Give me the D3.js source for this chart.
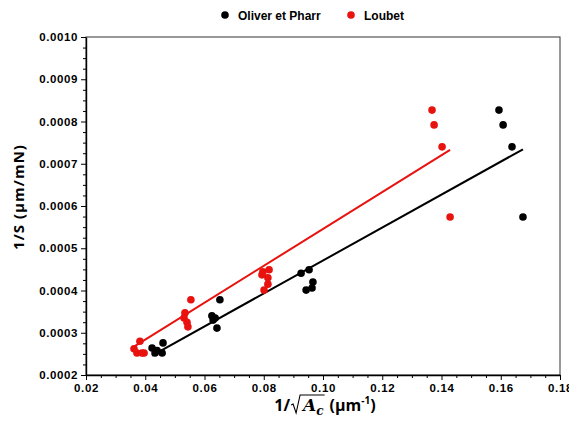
<!DOCTYPE html>
<html><head><meta charset="utf-8">
<script src="https://cdn.jsdelivr.net/npm/d3@7"></script>
<style>body{margin:0;background:#fff}</style>
</head><body><svg id="c" width="569" height="424" xmlns="http://www.w3.org/2000/svg"></svg>
<script>
// ---- data ----
const seriesNames = ["Oliver et Pharr", "Loubet"];
const seriesColors = ["#000000", "#e8120e"];
const oliverX = [0.0423, 0.0433, 0.0457, 0.0460, 0.0440, 0.0652, 0.0625, 0.0629, 0.0636, 0.0642, 0.0926, 0.0953, 0.0966, 0.0963, 0.0943, 0.1594, 0.1608, 0.1638, 0.1675];
const oliverY = [0.000264, 0.000252, 0.000252, 0.000276, 0.000258, 0.000378, 0.000340, 0.000330, 0.000335, 0.000311, 0.000441, 0.000449, 0.000420, 0.000406, 0.000401, 0.000827, 0.000792, 0.000740, 0.000574];
const loubetX = [0.0362, 0.0372, 0.0382, 0.0389, 0.0396, 0.0554, 0.0534, 0.0531, 0.0541, 0.0544, 0.0797, 0.0818, 0.0814, 0.0814, 0.0801, 0.0794, 0.1368, 0.1375, 0.1402, 0.1429];
const loubetY = [0.000262, 0.000252, 0.000280, 0.000252, 0.000252, 0.000378, 0.000347, 0.000335, 0.000325, 0.000314, 0.000444, 0.000449, 0.000430, 0.000415, 0.000401, 0.000437, 0.000827, 0.000792, 0.000740, 0.000574];
const fitSlope = [0.00390, 0.004367];
const fitIntercept = [0.000081, 0.000109];
const xTickValues = [0.02, 0.04, 0.06, 0.08, 0.10, 0.12, 0.14, 0.16, 0.18];
const yTickValues = [0.0002, 0.0003, 0.0004, 0.0005, 0.0006, 0.0007, 0.0008, 0.0009, 0.0010];

// ---- chart ----
const svg = d3.select("#c");
const L = 86, R = 560, T = 37, B = 375;
const x = d3.scaleLinear().domain([0.02, 0.18]).range([L, R]);
const y = d3.scaleLinear().domain([0.0002, 0.0010]).range([B, T]);
svg.append("rect").attr("width", 569).attr("height", 424).attr("fill", "#fff");

// frame
svg.append("rect").attr("x", L).attr("y", T).attr("width", R - L).attr("height", B - T)
  .attr("fill", "none").attr("stroke", "#333").attr("stroke-width", 1);

const tickFont = "bold 11.5px 'Liberation Sans', Arial, sans-serif";
// minor ticks
const xMinor = d3.range(0.02, 0.1801, 0.005).filter(v => Math.abs(Math.round(v / 0.02) * 0.02 - v) > 1e-6);
const yMinor = d3.range(0.0002, 0.001001, 0.000025).filter(v => Math.abs(Math.round(v / 0.0001) * 0.0001 - v) > 1e-9);
svg.append("g").attr("transform", `translate(0,${B})`)
  .call(d3.axisBottom(x).tickValues(xMinor).tickSize(3).tickFormat(""))
  .call(g => g.select(".domain").remove());
svg.append("g").attr("transform", `translate(${L},0)`)
  .call(d3.axisLeft(y).tickValues(yMinor).tickSize(3).tickFormat(""))
  .call(g => g.select(".domain").remove());

const gx = svg.append("g").attr("transform", `translate(0,${B})`)
  .call(d3.axisBottom(x).tickValues(xTickValues).tickSize(5).tickSizeOuter(0).tickPadding(4).tickFormat(d3.format(".2f")));
gx.selectAll("text").style("font", tickFont).style("letter-spacing", "0.6px").attr("fill", "#000");
const gy = svg.append("g").attr("transform", `translate(${L},0)`)
  .call(d3.axisLeft(y).tickValues(yTickValues).tickSize(5).tickSizeOuter(0).tickPadding(3).tickFormat(d3.format(".4f")));
gy.selectAll("text").style("font", tickFont).style("letter-spacing", "0.6px").attr("fill", "#000");
svg.selectAll(".domain").attr("stroke", "#000").attr("stroke-width", 1.4);
svg.selectAll(".tick line").attr("stroke", "#000");

// data
const series = [
  { xs: oliverX, ys: oliverY },
  { xs: loubetX, ys: loubetY }
];
series.forEach((s, i) => {
  const pts = s.xs.map((v, j) => [v, s.ys[j]]);
  const xmin = d3.min(s.xs), xmax = d3.max(s.xs);
  svg.append("line")
    .attr("x1", x(xmin)).attr("y1", y(fitIntercept[i] + fitSlope[i] * xmin))
    .attr("x2", x(xmax)).attr("y2", y(fitIntercept[i] + fitSlope[i] * xmax))
    .attr("stroke", seriesColors[i]).attr("stroke-width", 2);
  svg.append("g").selectAll("circle").data(pts).join("circle")
    .attr("cx", d => x(d[0])).attr("cy", d => y(d[1])).attr("r", 3.8)
    .attr("fill", seriesColors[i]);
});

// legend
const legX = [225, 351];
seriesNames.forEach((n, i) => {
  svg.append("circle").attr("cx", legX[i]).attr("cy", 15).attr("r", 3.8).attr("fill", seriesColors[i]);
  svg.append("text").attr("x", legX[i] + 13).attr("y", 19.5).text(n)
    .style("font", "bold 12px 'Liberation Sans', Arial, sans-serif").attr("fill", "#000");
});

// y label
svg.append("text").attr("transform", "translate(24,197) rotate(-90)")
  .attr("text-anchor", "middle").text("1/S  (µm/mN)")
  .style("font", "bold 15px 'Open Sans', sans-serif").style("letter-spacing", "1px").attr("fill", "#000");

// x label built from pieces
const xl = svg.append("g");
const baseY = 411;
let cx = 0;
function piece(txt, font, dy) {
  const t = xl.append("text").attr("x", cx).attr("y", baseY + (dy || 0)).text(txt)
    .style("font", font).attr("fill", "#000");
  const w = t.node().getComputedTextLength();
  cx += w;
  return { t, w };
}
const sans = "bold 16px 'Open Sans', sans-serif";
piece("1/", sans);
const radStart = cx;
cx += 13;
piece("A", "italic bold 17px 'DejaVu Serif', serif");
piece("c", "italic bold 12px 'DejaVu Serif', serif", 4);
const radEnd = cx + 1;
cx += 6;
piece("(µm", sans);
piece("-1", "bold 10px 'Open Sans', sans-serif", -7);
piece(")", sans);
xl.append("path")
  .attr("d", `M${radStart + 1},${baseY - 6} L${radStart + 3},${baseY - 7} L${radStart + 6},${baseY + 2} L${radStart + 10},${baseY - 16} L${radEnd},${baseY - 16}`)
  .attr("fill", "none").attr("stroke", "#000").attr("stroke-width", 1.1);
const totalW = cx;
xl.attr("transform", `translate(${325 - totalW / 2},0)`);
</script>
</body></html>
